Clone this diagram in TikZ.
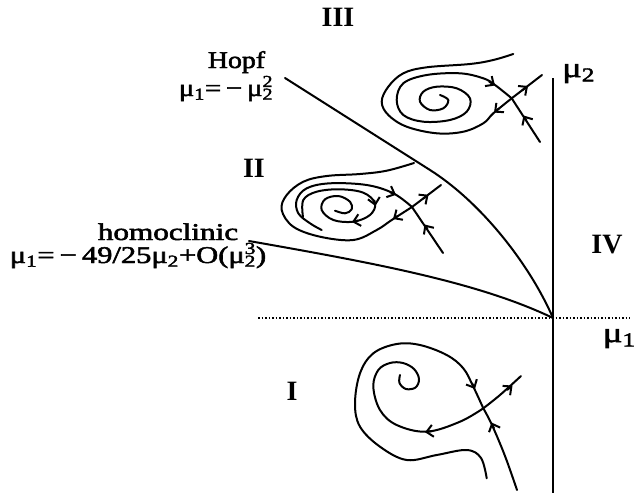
\documentclass[tikz,border=0pt]{standalone}
\usepackage{fontspec}
\setmainfont{Liberation Serif}
\newfontfamily\heavy{Liberation Serif}[FakeBold=2]
\usetikzlibrary{arrows.meta}
\newcommand\subsupx[2]{\rlap{\textsuperscript{#2}}\textsubscript{#1}}
\begin{document}
\begin{tikzpicture}[x=1pt,y=-1pt,
  curve/.style={line width=2pt, line cap=round, line join=round},
  tip/.style={line width=2pt, -{Straight Barb[length=6.5pt,width=12pt]}},
  lbl/.style={font=\fontsize{24}{24}\selectfont\heavy, inner sep=0pt},
  word/.style={lbl, text height=16pt, text depth=3pt},
  formula/.style={lbl, text height=17pt, text depth=5pt},
  roman/.style={font=\fontsize{28}{28}\selectfont\bfseries, inner sep=0pt},
  axis/.style={line width=2pt}]
\useasboundingbox (0,0) rectangle (637,493);

% axes
\coordinate (O) at (553,318);
\coordinate (ytop) at (553,78);
\coordinate (ybot) at (553,493);
\coordinate (xl) at (258,318);
\coordinate (xr) at (630,318);
\draw[axis] (ytop) -- (ybot);
\draw[line width=1.5pt, dotted] (xl) -- (xr);

% Hopf curve
\coordinate (hopfA) at (285,78);
\coordinate (hopfB) at (430,170);
\draw[curve] (hopfA) -- (hopfB) .. controls (482,203) and (530,265) .. (O);
% homoclinic curve
\coordinate (homA) at (249,241);
\draw[curve] (homA) .. controls (380,264) and (480,283) .. (O);

% labels
\node[roman] (rIII) at (338,17) {III};
\node[roman] (rII) at (254,168) {II};
\node[roman] (rIV) at (607,245) {IV};
\node[roman] (rI) at (292,391) {I};
\node[word, anchor=base] (hopf) at (236.5,68) {\scalebox{1.16}[1]{Hopf}};
\node[formula, anchor=base] (hopfeq) at (226,96) {\scalebox{1.2}[1]{μ\textsubscript{1}=\,−\,μ\subsupx{2}{2}}};
\node[word, anchor=base] (hom) at (168,240) {\scalebox{1.3}[1]{homoclinic}};
\node[formula, anchor=base] (homeq) at (138,263) {\scalebox{1.27}[1]{μ\textsubscript{1}=\,−\,49/25μ\textsubscript{2}+O(μ\subsupx{2}{3})}};
\node[lbl, font=\fontsize{28}{28}\selectfont\heavy, anchor=base west] (mu2) at (562,77) {\scalebox{1.3}[1]{μ\textsubscript{2}}};
\node[lbl, font=\fontsize{28}{28}\selectfont\heavy, anchor=base east] (mu1) at (636,342) {\scalebox{1.3}[1]{μ\textsubscript{1}}};

% ---------- region III ----------
\coordinate (S3) at (511.7,98.3);
\draw[curve] (S3) -- (542,75);
\draw[curve] plot[smooth, tension=0.6] coordinates {(511.7,98.3) (493.3,113.3) (483.3,123.3) (463.3,131.7) (436.7,133.3) (406.7,126.7) (388.3,115) (381.7,101.7) (388.3,86.7) (403.3,73.3) (426.7,67.3) (470,64) (493.3,60) (513.3,54)};
\draw[curve] (540,142) -- (S3);
\draw[curve] plot[smooth, tension=0.6] coordinates {(440,95) (448.3,100) (443.3,108.3) (430,110) (420,101.7) (423.3,91.7) (436.7,86.7) (456.7,88.3) (470,98.3) (466.7,111.7) (450,120) (423.3,121.7) (403.3,115) (396.7,100) (403.3,83.3) (426.7,75) (460,73.3) (483.3,78.3) (495,85) (511.7,98.3)};
\draw[tip] (522,90.5) -- (528,86);
\draw[tip] (499,108.5) -- (494,112.6);
\draw[tip] (526.5,120.5) -- (523.5,115.5);
\draw[tip] (489,81.5) -- (495,85.5);

% ---------- region II ----------
\coordinate (S2) at (412,207);
\draw[curve] (S2) -- (441,185);
\draw[curve] plot[smooth, tension=0.6] coordinates {(412,207) (391.7,220) (376.7,230) (353.3,240) (320,236.7) (293.3,226.7) (281.7,210) (286.7,195) (303.3,181.7) (326.7,176) (360,174) (386.7,170.7) (414,163)};
\draw[curve] (443,253) -- (S2);
\draw[curve] plot[smooth, tension=0.6] coordinates {(321.7,230) (310,223.3) (298.3,213.3) (296.7,200) (306.7,188.3) (330,183.3) (366.7,185) (393.3,193.3) (412,207)};
\draw[curve] plot[smooth, tension=0.6] coordinates {(303,217) (303.3,200) (316.7,191.7) (340,189.3) (363.3,192.7) (375,203.3) (370,215) (353.3,221.7) (333.3,220) (321.7,210) (325,199.3) (338.3,196) (350,201.7) (351.7,209.3) (345,213.3) (335,210.7)};
\draw[tip] (423,198.8) -- (428.5,194.8);
\draw[tip] (398,215.8) -- (393,219);
\draw[tip] (427.5,229) -- (424.5,224.5);
\draw[tip] (390,192.2) -- (396,194.8);
\draw[tip] (374.2,200) -- (375.4,206);
\draw[tip] (358,220.5) -- (352,222);

% ---------- region I ----------
\coordinate (S1) at (483.3,408.3);
\draw[curve] plot[smooth, tension=0.6] coordinates {(483.3,408.3) (500,395) (521,376)};
\draw[curve] plot[smooth, tension=0.6] coordinates {(483.3,408.3) (460,421.7) (426.7,431.7) (396.7,425) (380,410) (373.3,386.7) (378.3,370) (390,363) (403,363) (414,369) (419,379) (415.5,387.5) (406,389) (399.5,383) (400,375)};
\draw[curve] plot[smooth, tension=0.6] coordinates {(486.7,478.3) (481,458) (466.7,450) (436.7,455) (406.7,460) (380,446.7) (360,426.7) (355,403.3) (360,373.3) (373.3,353.3) (396.7,344) (420,345) (446.7,355) (463.3,368.3) (473.3,386.7) (483.3,408.3)};
\draw[curve] plot[smooth, tension=0.6] coordinates {(483.3,408.3) (492,425) (505,456) (517,490)};
\draw[tip] (507,390) -- (512.5,385.5);
\draw[tip] (432,431) -- (425,432.2);
\draw[tip] (472,383) -- (475,389);
\draw[tip] (494,428.5) -- (491.5,422.5);
\end{tikzpicture}
\end{document}
